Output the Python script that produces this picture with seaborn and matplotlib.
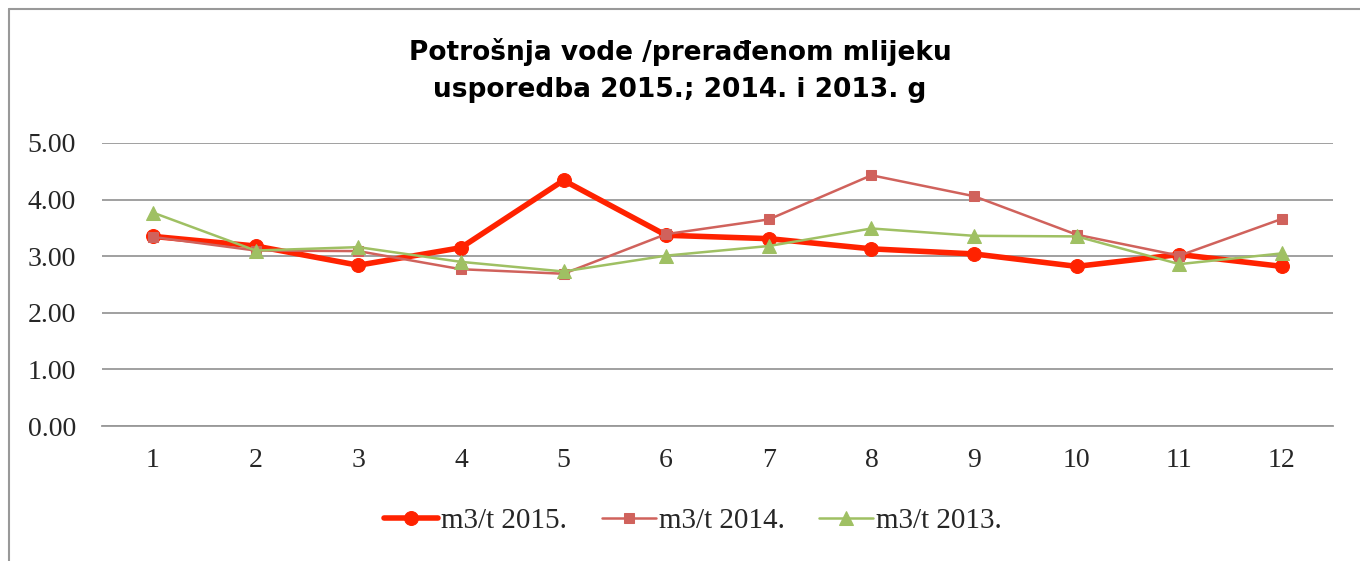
#!/usr/bin/env python3
"""
Water consumption per processed milk, comparison 2015 / 2014 / 2013.
"""

import matplotlib
matplotlib.use("Agg")
import matplotlib.pyplot as plt
import matplotlib.lines as mlines
import seaborn as sns
import pandas as pd

months = list(range(1, 13))
m3_2015 = [3.35, 3.18, 2.84, 3.15, 4.34, 3.37, 3.31, 3.13, 3.04, 2.82, 3.03, 2.82]
m3_2014 = [3.34, 3.10, 3.09, 2.77, 2.69, 3.39, 3.65, 4.43, 4.06, 3.38, 3.01, 3.66]
m3_2013 = [3.77, 3.10, 3.16, 2.90, 2.73, 3.01, 3.18, 3.49, 3.36, 3.35, 2.86, 3.05]
labels = ["m3/t 2015.", "m3/t 2014.", "m3/t 2013."]
title_lines = ["Potrošnja vode /prerađenom mlijeku", "usporedba 2015.; 2014. i 2013. g"]

df = pd.DataFrame({"month": months * 3,
                   "value": m3_2015 + m3_2014 + m3_2013,
                   "series": [labels[0]] * 12 + [labels[1]] * 12 + [labels[2]] * 12})

sns.set_style("white")
plt.rcParams["font.family"] = ["Liberation Serif", "DejaVu Serif"]

W, H = 1360, 561
fig = plt.figure(figsize=(W / 100, H / 100), dpi=100)
ax = fig.add_axes([101.7 / W, 1 - 426 / H, (1333.3 - 101.7) / W, (426 - 143) / H])

# styles per series: colour, line width, marker, marker size
styles = {
    labels[0]: ("#FF2200", 4.0, "o", 10),
    labels[1]: ("#D0625C", 1.8, "s", 6.5),
    labels[2]: ("#9FC063", 1.8, "^", 9.5),
}
for i, lab in enumerate(labels):
    c, lw, mk, ms = styles[lab]
    sns.lineplot(data=df[df["series"] == lab], x="month", y="value", ax=ax,
                 color=c, linewidth=lw, marker=mk, markersize=ms,
                 markeredgecolor=c, label=lab, zorder=3 + i)

ax.set_xlim(0.5, 12.5)
ax.set_ylim(0, 5)
ax.set_yticks([0, 1, 2, 3, 4, 5])
ax.set_yticklabels([f"{v:.2f}" for v in range(6)], fontsize=20)
ax.set_xticks(months)
ax.set_xticklabels([str(m) for m in months], fontsize=20)
ax.set_xlabel("")
ax.set_ylabel("")
ax.yaxis.grid(True, color="#999999", linewidth=1.3)
ax.tick_params(axis="y", length=0, pad=18.5)
ax.tick_params(axis="x", length=0, pad=16)
for side in ["top", "right", "left"]:
    ax.spines[side].set_visible(False)
ax.spines["bottom"].set_color("#999999")
ax.spines["bottom"].set_linewidth(1.3)

for k, (line, ypx) in enumerate(zip(title_lines, [52, 90])):
    fig.text(0.5, 1 - ypx / H, line, ha="center", va="center", fontsize=19,
             fontweight="bold", family="DejaVu Sans", color="black")

ax.legend(loc="center", bbox_to_anchor=(693 / W, 1 - 521 / H), bbox_transform=fig.transFigure,
          ncol=3, frameon=False, fontsize=21, handlelength=1.85, columnspacing=1.2,
          handletextpad=0.1, borderpad=0)

# outer chart border (left and top edges visible)
fig.lines.append(mlines.Line2D([8.5 / W, 8.5 / W], [0, 1 - 8.5 / H], transform=fig.transFigure,
                               color="#999999", linewidth=1.5))
fig.lines.append(mlines.Line2D([8.5 / W, 1], [1 - 8.5 / H, 1 - 8.5 / H], transform=fig.transFigure,
                               color="#999999", linewidth=1.5))

fig.savefig("out.png", dpi=100)
plt.close(fig)
